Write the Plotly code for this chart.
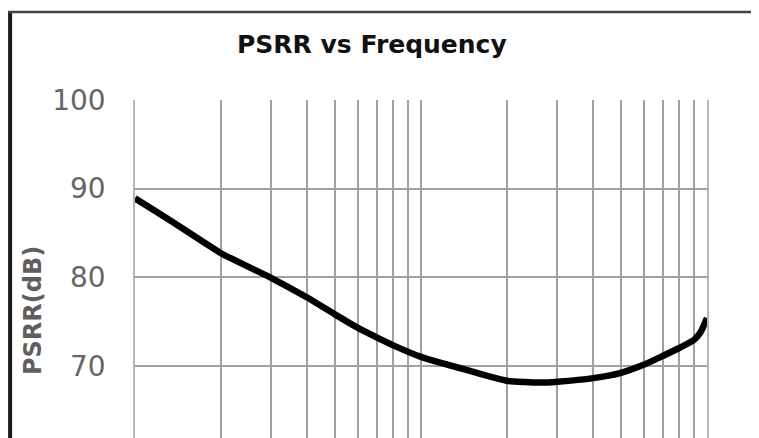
import plotly.graph_objects as go

# Data (frequency on a log axis, PSRR in dB)
freq = [10, 13, 20, 30, 40, 50, 60, 70, 80, 100, 145, 200, 260, 300, 400, 500, 600, 700, 800, 900, 950, 1000]
psrr = [88.9, 86.6, 82.7, 79.9, 77.7, 75.8, 74.3, 73.2, 72.3, 71.0, 69.5, 68.3, 68.1, 68.2, 68.6, 69.2, 70.1, 71.1, 72.0, 72.9, 73.8, 75.4]

x_grid = [10, 20, 30, 40, 50, 60, 70, 80, 90, 100, 200, 300, 400, 500, 600, 700, 800, 900, 1000]
y_ticks = [70, 80, 90, 100]
y_tick_text = ["70", "80", "90", "100"]

title_text = "PSRR vs Frequency"
y_title_text = "PSRR(dB)"

OFF = 8  # page body margin offset
W, H = 759, 438
L, T = 135 - OFF, 100 - OFF
R = W - (707.5 - OFF)
B = OFF
pw, ph = W - L - R, H - T - B

def px_x(p):
    return (p - OFF - L) / pw

def px_y(p):
    return 1 - (p - OFF - T) / ph

fig = go.Figure()
fig.add_trace(go.Scatter(
    x=freq, y=psrr, mode="lines",
    line=dict(color="black", width=6.5, shape="spline", smoothing=0.5),
    showlegend=False, hoverinfo="skip",
))

fig.update_layout(
    width=W, height=H,
    margin=dict(l=L, r=R, t=T, b=B, pad=0, autoexpand=False),
    paper_bgcolor="white", plot_bgcolor="white",
    showlegend=False,
    xaxis=dict(
        type="log", range=[1, 3],
        tickvals=x_grid, showticklabels=False, ticks="",
        showgrid=True, gridcolor="#a0a0a0", gridwidth=1.5,
        zeroline=False, showline=False,
    ),
    yaxis=dict(
        range=[61.84, 100],
        tickvals=y_ticks, ticktext=y_tick_text, ticks="",
        ticklabelstandoff=22,
        tickfont=dict(family="DejaVu Sans", size=28, color="#666666"),
        showgrid=True, gridcolor="#a0a0a0", gridwidth=1.5,
        zeroline=False,
        showline=True, mirror=True, linecolor="#b5b5b5", linewidth=1.5,
    ),
    annotations=[
        dict(text=f"<b>{title_text}</b>", xref="paper", yref="paper",
             x=px_x(372), y=px_y(44), xanchor="center", yanchor="middle",
             showarrow=False, font=dict(family="DejaVu Sans", size=25, color="#111111")),
        dict(text=f"<b>{y_title_text}</b>", xref="paper", yref="paper",
             x=px_x(33), y=px_y(311), xanchor="center", yanchor="middle",
             textangle=-90, showarrow=False,
             font=dict(family="DejaVu Sans", size=24, color="#5f5f5f")),
    ],
    shapes=[
        dict(type="line", xref="paper", yref="paper",
             x0=px_x(10), x1=px_x(10), y0=px_y(11), y1=px_y(450),
             line=dict(color="#1a1a1a", width=4)),
        dict(type="line", xref="paper", yref="paper",
             x0=px_x(8), x1=px_x(770), y0=px_y(12), y1=px_y(12),
             line=dict(color="#444444", width=2.5)),
    ],
)

fig.write_html("out.html")
